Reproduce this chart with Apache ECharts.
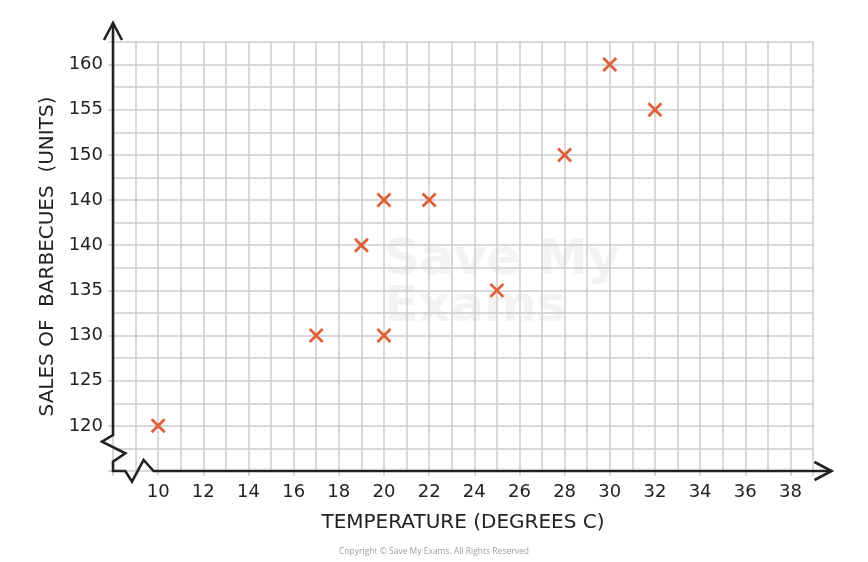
<!DOCTYPE html>
<html>
<head>
<meta charset="utf-8">
<script src="https://cdn.jsdelivr.net/npm/echarts@6/dist/echarts.min.js"></script>
<style>
html,body{margin:0;padding:0;background:#fff;}
#chart{width:868px;height:562px;}
</style>
</head>
<body>
<div id="chart"></div>
<script>
// ---- data ----
const temperatures = [10, 17, 19, 20, 20, 22, 25, 28, 30, 32];
// positions on the linear sales scale (row labelled "140" twice in the original; upper one sits at 145)
const sales = [120, 130, 140, 145, 130, 145, 135, 150, 160, 155];

const xTickValues = [10, 12, 14, 16, 18, 20, 22, 24, 26, 28, 30, 32, 34, 36, 38];
const xTickLabels = ['10','12','14','16','18','20','22','24','26','28','30','32','34','36','38'];
const yTickValues = [120, 125, 130, 135, 140, 145, 150, 155, 160];
const yTickLabels = ['120','125','130','135','140','140','150','155','160'];

const xMin = 8, xMax = 39, yMin = 115, yMax = 162.5;
const xTitle = 'TEMPERATURE (DEGREES C)';
const yTitle = 'SALES OF  BARBECUES  (UNITS)';

const FONT = 'DejaVu Sans';
const GRID = '#cdcdcd';
const INK = '#222222';
const MARK = '#e0603a';

const chart = echarts.init(document.getElementById('chart'), null, {renderer: 'canvas'});

const gridLine = {show: true, lineStyle: {color: GRID, width: 1.5}};

const option = {
  animation: false,
  backgroundColor: '#ffffff',
  grid: {left: 113, right: 55, top: 42, bottom: 91, containLabel: false},
  xAxis: [
    {
      type: 'value', min: xMin, max: xMax, interval: 1,
      axisLine: {show: false}, axisTick: {show: false}, axisLabel: {show: false},
      splitLine: gridLine
    },
    {
      type: 'value', min: xMin, max: xMax, interval: 2, position: 'bottom',
      axisLine: {show: false},
      axisTick: {show: true, length: 5, lineStyle: {color: GRID, width: 1.5}},
      splitLine: {show: false},
      axisLabel: {
        margin: 12, color: INK, fontFamily: FONT, fontSize: 18,
        formatter: v => { const i = xTickValues.indexOf(v); return i >= 0 ? xTickLabels[i] : ''; }
      },
      name: xTitle, nameLocation: 'middle', nameGap: 42,
      nameTextStyle: {color: INK, fontFamily: FONT, fontSize: 20}
    }
  ],
  yAxis: [
    {
      type: 'value', min: yMin, max: yMax, interval: 2.5,
      axisLine: {show: false}, axisTick: {show: false}, axisLabel: {show: false},
      splitLine: gridLine
    },
    {
      type: 'value', min: yMin, max: yMax, interval: 5, position: 'left',
      axisLine: {show: false},
      axisTick: {show: true, length: 5, lineStyle: {color: GRID, width: 1.5}},
      splitLine: {show: false},
      axisLabel: {
        margin: 10, color: INK, fontFamily: FONT, fontSize: 18,
        formatter: v => { const i = yTickValues.indexOf(v); return i >= 0 ? yTickLabels[i] : ''; }
      },
      name: yTitle, nameLocation: 'middle', nameGap: 55,
      nameTextStyle: {color: INK, fontFamily: FONT, fontSize: 20}
    }
  ],
  series: [{
    type: 'scatter',
    xAxisIndex: 0, yAxisIndex: 0,
    data: temperatures.map((t, i) => [t, sales[i]]),
    symbol: 'path://M0,0L10,10M10,0L0,10',
    symbolSize: 13,
    itemStyle: {color: 'rgba(0,0,0,0)', borderColor: MARK, borderWidth: 2.8, opacity: 1},
    z: 5
  }]
};
chart.setOption(option);

// decorations: broken axes with arrows, watermark, copyright
const o = chart.convertToPixel({gridIndex: 0}, [xMin, yMin]);
const tp = chart.convertToPixel({gridIndex: 0}, [xMin, yMax]);
const rp = chart.convertToPixel({gridIndex: 0}, [xMax, yMin]);
const x0 = o[0], y0 = o[1], yTop = tp[1] - 19, xRight = rp[0] + 18.5;

chart.setOption({
  graphic: [
    {
      type: 'text', z: -1, left: 384, top: 236,
      style: {text: 'Save My\nExams', fill: '#f3f3f3', font: 'bold 50px ' + FONT, lineHeight: 47}
    },
    {
      type: 'polyline', z: 10,
      shape: {points: [
        [x0, yTop], [x0, y0 - 36], [x0 - 11, y0 - 29.3], [x0 + 12.3, y0 - 17.7], [x0, y0 - 9.3], [x0, y0],
        [x0 + 12.3, y0], [x0 + 19, y0 + 10.7], [x0 + 30.6, y0 - 11], [x0 + 40.6, y0], [xRight, y0]
      ]},
      style: {stroke: INK, lineWidth: 2.6, fill: null, lineJoin: 'miter'}
    },
    {
      type: 'polyline', z: 10,
      shape: {points: [[x0 - 9, yTop + 17], [x0, yTop], [x0 + 9, yTop + 17]]},
      style: {stroke: INK, lineWidth: 2.6, fill: null}
    },
    {
      type: 'polyline', z: 10,
      shape: {points: [[xRight - 17, y0 - 9], [xRight, y0], [xRight - 17, y0 + 9]]},
      style: {stroke: INK, lineWidth: 2.6, fill: null}
    },
    {
      type: 'text', z: 10, left: 'center', top: 547,
      style: {text: 'Copyright \u00A9 Save My Exams. All Rights Reserved', fill: '#a0a0a0', font: '8.5px "Open Sans"'}
    }
  ]
});
</script>
</body>
</html>
